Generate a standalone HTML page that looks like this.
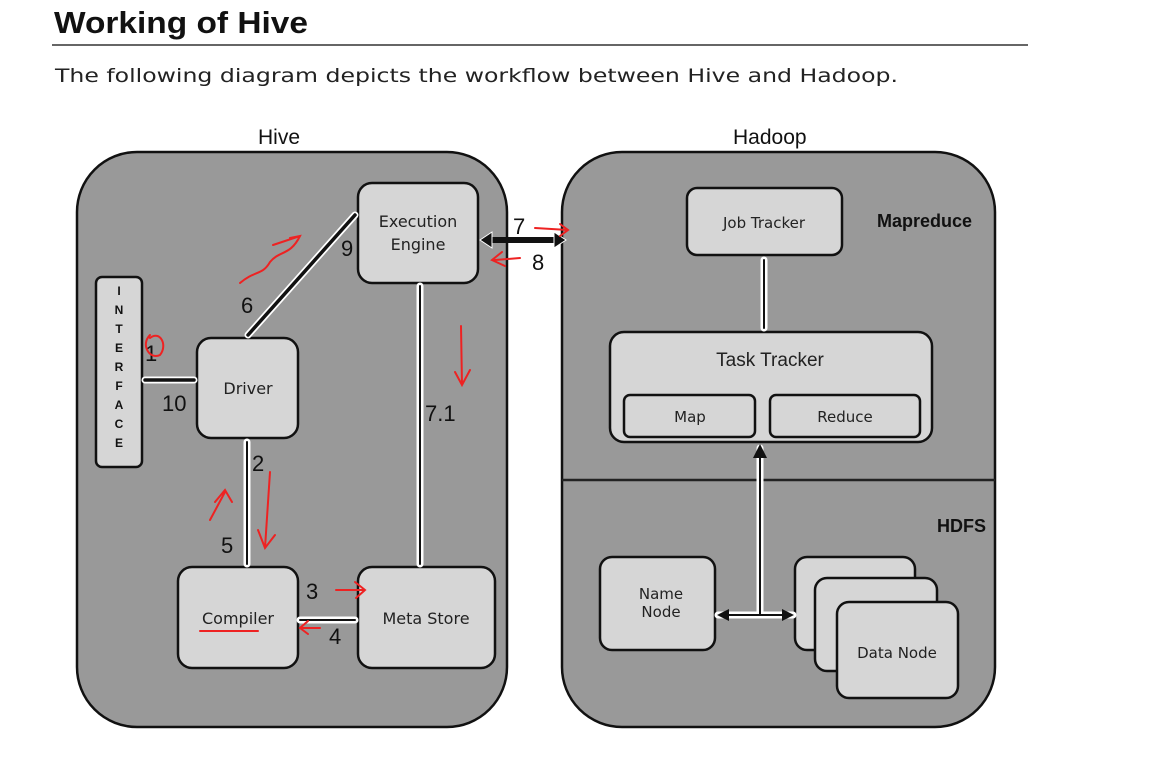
<!DOCTYPE html>
<html><head><style>
body{margin:0;background:#fff;width:1158px;height:775px;overflow:hidden;font-family:"Liberation Sans",sans-serif}
</style></head><body>
<svg width="1158" height="775" xmlns="http://www.w3.org/2000/svg" font-family="Liberation Sans, sans-serif">
<text x="54" y="33" font-size="31" font-weight="bold" fill="#111" textLength="254" lengthAdjust="spacingAndGlyphs">Working of Hive</text>
<line x1="52" y1="45" x2="1028" y2="45" stroke="#333" stroke-width="1.5"/>
<text x="55" y="82" font-family="DejaVu Sans, sans-serif" font-size="19" fill="#222" textLength="843" lengthAdjust="spacingAndGlyphs">The following diagram depicts the workflow between Hive and Hadoop.</text>
<text x="258" y="144" font-size="21" fill="#111">Hive</text>
<text x="733" y="144" font-size="21" fill="#111">Hadoop</text>
<rect x="77" y="152" width="430" height="575" rx="60" fill="#999" stroke="#111" stroke-width="2.5"/>
<rect x="562" y="152" width="433" height="575" rx="60" fill="#999" stroke="#111" stroke-width="2.5"/>
<line x1="562" y1="480" x2="995" y2="480" stroke="#222" stroke-width="2.5"/>
<g fill="#d6d6d6" stroke="#111" stroke-width="2.5">
<rect x="96" y="277" width="46" height="190" rx="6"/>
<rect x="358" y="183" width="120" height="100" rx="14"/>
<rect x="197" y="338" width="101" height="100" rx="14"/>
<rect x="178" y="567" width="120" height="101" rx="14"/>
<rect x="358" y="567" width="137" height="101" rx="14"/>
<rect x="687" y="188" width="155" height="67" rx="10"/>
<rect x="610" y="332" width="322" height="110" rx="14"/>
<rect x="624" y="395" width="131" height="42" rx="6"/>
<rect x="770" y="395" width="150" height="42" rx="6"/>
<rect x="600" y="557" width="115" height="93" rx="12"/>
<rect x="795" y="557" width="120" height="93" rx="12"/>
<rect x="815" y="578" width="122" height="93" rx="12"/>
<rect x="837" y="602" width="121" height="96" rx="12"/>
</g>
<g font-family="DejaVu Sans, sans-serif" font-size="16" fill="#222" text-anchor="middle">
<text x="418" y="227">Execution</text><text x="418" y="250">Engine</text>
<text x="248" y="394">Driver</text>
<text x="238" y="624">Compiler</text>
<text x="426" y="624">Meta Store</text>
<text x="764" y="228" font-size="15">Job Tracker</text>
<text x="770" y="366" font-family="Liberation Sans, sans-serif" font-size="19">Task Tracker</text>
<text x="690" y="422" font-size="15">Map</text>
<text x="845" y="422" font-size="15">Reduce</text>
<text x="661" y="599" font-size="15">Name</text><text x="661" y="617" font-size="15">Node</text>
<text x="897" y="658" font-size="15">Data Node</text>
</g>
<text x="877" y="227" font-size="18" font-weight="bold" fill="#111">Mapreduce</text>
<text x="937" y="532" font-size="18" font-weight="bold" fill="#111">HDFS</text>
<g font-size="12" font-weight="bold" fill="#111" text-anchor="middle">
<text x="119" y="295">I</text><text x="119" y="314">N</text><text x="119" y="333">T</text><text x="119" y="352">E</text><text x="119" y="371">R</text><text x="119" y="390">F</text><text x="119" y="409">A</text><text x="119" y="428">C</text><text x="119" y="447">E</text>
</g>
<g stroke-linecap="round" fill="none">
<g stroke="#fff" stroke-width="7">
<line x1="248" y1="335" x2="355" y2="215"/>
<line x1="145" y1="380" x2="194" y2="380"/>
<line x1="247" y1="442" x2="247" y2="564"/>
<line x1="300" y1="620" x2="355" y2="620"/>
<line x1="420" y1="286" x2="420" y2="564"/>
<line x1="764" y1="260" x2="764" y2="328"/>
<line x1="760" y1="448" x2="760" y2="615"/>
<line x1="718" y1="615" x2="793" y2="615"/>
</g>
<g stroke="#111" stroke-width="3.5">
<line x1="248" y1="335" x2="355" y2="215"/>
<line x1="145" y1="380" x2="194" y2="380"/>
</g>
<g stroke="#111" stroke-width="2">
<line x1="247" y1="442" x2="247" y2="564"/>
<line x1="300" y1="620" x2="355" y2="620"/>
<line x1="420" y1="286" x2="420" y2="564"/>
<line x1="764" y1="260" x2="764" y2="328"/>
<line x1="760" y1="455" x2="760" y2="615"/>
<line x1="725" y1="615" x2="785" y2="615"/>
</g>
<line x1="485" y1="240" x2="560" y2="240" stroke="#111" stroke-width="6"/>
</g>
<polygon points="480,240 492,232 492,248" fill="#111" stroke="#fff"/>
<polygon points="566,240 554,232 554,248" fill="#111" stroke="#fff"/>
<polygon points="760,444 753,458 767,458" fill="#111"/>
<polygon points="717,615 729,609 729,621" fill="#111"/>
<polygon points="794,615 782,609 782,621" fill="#111"/>
<g font-size="22" fill="#111">
<text x="513" y="234">7</text><text x="532" y="270">8</text>
<text x="341" y="256">9</text><text x="241" y="313">6</text>
<text x="145" y="361">1</text><text x="162" y="411">10</text>
<text x="425" y="421">7.1</text>
<text x="252" y="471">2</text><text x="221" y="553">5</text>
<text x="306" y="599">3</text><text x="329" y="644">4</text>
</g>
<g stroke="#e22" stroke-width="2" fill="none" stroke-linecap="round">
<path d="M240 283 C255 270 262 276 270 262 C280 250 290 256 300 236 L290 238 M300 236 L273 245"/>
<path d="M535 228 L568 230 M560 224 L568 230 L560 236"/>
<path d="M520 258 L495 260 M502 252 L492 260 L505 266"/>
<path d="M461 326 L462 385 M455 372 L462 385 L470 370"/>
<path d="M150 335 C140 345 150 360 160 355 C168 345 160 330 150 338"/>
<path d="M210 520 L225 492 M215 502 L225 490 L232 502"/>
<path d="M270 472 L265 548 M258 530 L265 548 L275 535"/>
<path d="M336 590 L365 590 M355 582 L365 590 L356 598"/>
<path d="M320 628 L300 628 M308 621 L300 628 L308 634"/>
<path d="M200 631 L258 631"/>
</g>
</svg>
</body></html>
